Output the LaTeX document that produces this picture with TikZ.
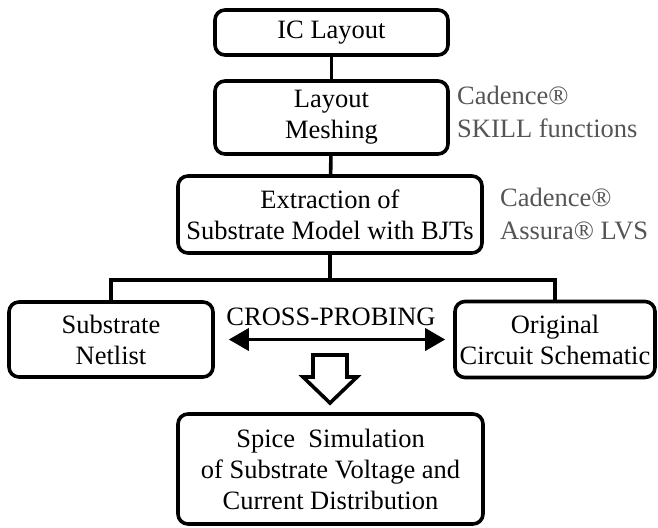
\documentclass[tikz,border=0pt]{standalone}
\usepackage{fontspec}
\setmainfont{Liberation Serif}
\usetikzlibrary{arrows.meta}
\definecolor{annot}{HTML}{555555}
\tikzset{
  box/.style={draw=black, line width=3.6pt, rounded corners=10pt, align=center,
    inner sep=0pt, font=\fontsize{26.5}{31}\selectfont},
  note/.style={text=annot, align=left, anchor=west, inner sep=0pt,
    font=\fontsize{26.5}{33}\selectfont},
  link/.style={line width=3.6pt},
  dbl/.style={line width=3.6pt, {Triangle[length=20pt,width=22pt]}-{Triangle[length=20pt,width=22pt]}},
}
\begin{document}
\begin{tikzpicture}[x=1pt,y=-1pt]
\useasboundingbox (0,0) rectangle (658,527);
\node[box, minimum width=233pt, minimum height=45pt] (n1) at (331.5,32.5) {IC Layout};
\node[box, minimum width=233pt, minimum height=73pt] (n2) at (331.5,117.5) {Layout\\Meshing};
\node[box, minimum width=304pt, minimum height=77pt] (n3) at (330,214.5) {Extraction of\\Substrate Model with BJTs};
\node[box, minimum width=204pt, minimum height=75pt] (n4) at (111,339.5) {Substrate\\Netlist};
\node[box, minimum width=200pt, minimum height=76pt] (n5) at (555,339.5) {Original\\Circuit Schematic};
\node[box, minimum width=305pt, minimum height=110pt] (n6) at (330.5,469) {Spice\ \ Simulation\\of Substrate Voltage and\\Current Distribution};
\node[note] (a1) at (457,112) {Cadence®\\SKILL functions};
\node[note] (a2) at (500,214) {Cadence®\\Assura® LVS};
\node[inner sep=0pt, font=\fontsize{26.5}{31}\selectfont] (cp) at (331,317) {CROSS-PROBING};
\draw[link] (n1) -- (n2);
\draw[link] (n2) -- (n3);
\coordinate (j) at ([yshift=-25pt]n3.south);
\draw[link] (n3.south) -- (j);
\draw[link, line cap=rect] (j) -| (n4.north);
\draw[link, line cap=rect] (j) -| (n5.north);
\draw[dbl, shorten <=14pt, shorten >=8pt] (n4) -- (n5);
\draw[line width=3.6pt, miter limit=10] (313,355) -- (347,355) -- (347,377) -- (357,377) -- (330,403) -- (303,377) -- (313,377) -- cycle;
\end{tikzpicture}
\end{document}
